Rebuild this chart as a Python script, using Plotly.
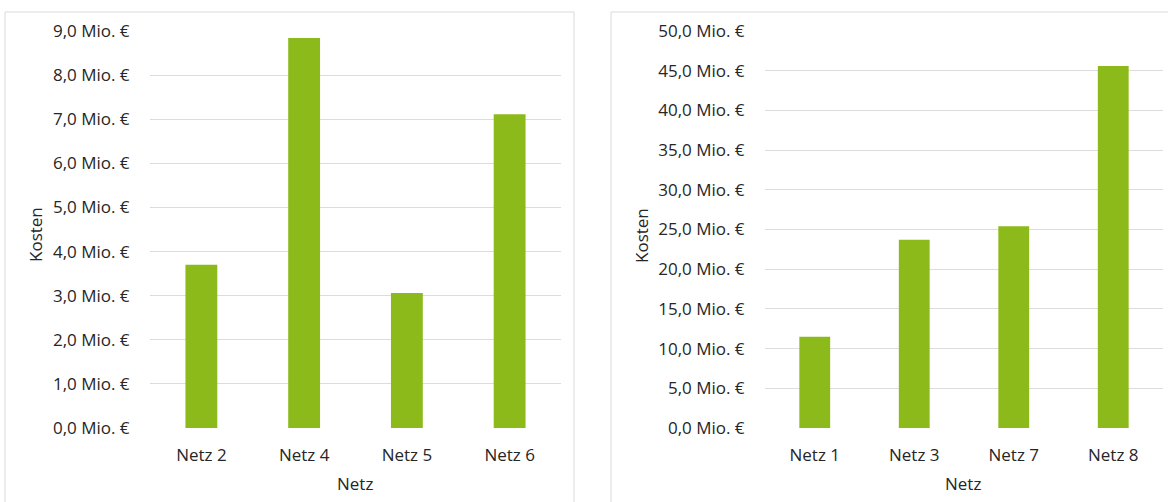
import plotly.graph_objects as go

# Kosten je Netz, zwei Gruppen
netze_links = ["Netz 2", "Netz 4", "Netz 5", "Netz 6"]
kosten_links = [3.70, 8.84, 3.06, 7.11]
ticks_links = [0, 1, 2, 3, 4, 5, 6, 7, 8, 9]
ticktext_links = ["0,0 Mio. €", "1,0 Mio. €", "2,0 Mio. €", "3,0 Mio. €", "4,0 Mio. €",
                  "5,0 Mio. €", "6,0 Mio. €", "7,0 Mio. €", "8,0 Mio. €", "9,0 Mio. €"]

netze_rechts = ["Netz 1", "Netz 3", "Netz 7", "Netz 8"]
kosten_rechts = [11.5, 23.7, 25.4, 45.6]
ticks_rechts = [0, 5, 10, 15, 20, 25, 30, 35, 40, 45, 50]
ticktext_rechts = ["0,0 Mio. €", "5,0 Mio. €", "10,0 Mio. €", "15,0 Mio. €", "20,0 Mio. €",
                   "25,0 Mio. €", "30,0 Mio. €", "35,0 Mio. €", "40,0 Mio. €", "45,0 Mio. €",
                   "50,0 Mio. €"]

W, H = 1168, 502
GREEN = "#8CBA1B"
GRID = "#DCDCDC"
TEXT = "#262626"
FONT = "Open Sans"
FS = 17


def px_x(v):
    return v / W


def px_y(v):
    return 1 - v / H


fig = go.Figure()
fig.add_trace(go.Bar(x=netze_links, y=kosten_links, marker=dict(color=GREEN, line=dict(width=0)),
                     width=0.31, xaxis="x", yaxis="y", hoverinfo="x+y"))
fig.add_trace(go.Bar(x=netze_rechts, y=kosten_rechts, marker=dict(color=GREEN, line=dict(width=0)),
                     width=0.31, xaxis="x2", yaxis="y2", hoverinfo="x+y"))

ydom = [px_y(428), px_y(31)]
axis_font = dict(family=FONT, size=FS, color=TEXT)

common_x = dict(showgrid=False, showline=False, zeroline=False, ticks="outside", ticklen=12,
                tickcolor="rgba(0,0,0,0)", tickfont=axis_font, fixedrange=True, automargin=False)
common_y = dict(showgrid=True, gridcolor=GRID, gridwidth=1, showline=False, zeroline=False,
                ticks="outside", ticklen=16, tickcolor="rgba(0,0,0,0)", tickfont=axis_font,
                fixedrange=True, automargin=False)

fig.update_layout(
    template="none",
    width=W, height=H,
    margin=dict(l=0, r=0, t=0, b=0, pad=0),
    paper_bgcolor="white", plot_bgcolor="white",
    showlegend=False,
    font=dict(family=FONT, color=TEXT),
    xaxis=dict(domain=[px_x(150), px_x(561)], anchor="y", **common_x),
    yaxis=dict(domain=ydom, anchor="x", range=[0, 9], tickvals=ticks_links,
               ticktext=ticktext_links, **common_y),
    xaxis2=dict(domain=[px_x(765), px_x(1163)], anchor="y2", **common_x),
    yaxis2=dict(domain=ydom, anchor="x2", range=[0, 50], tickvals=ticks_rechts,
                ticktext=ticktext_rechts, **common_y),
)

# Rahmen der beiden Diagrammflächen
for x0, x1 in [(5, 574), (611, 1175)]:
    fig.add_shape(type="rect", xref="paper", yref="paper",
                  x0=px_x(x0), x1=px_x(x1), y0=px_y(510), y1=px_y(12),
                  line=dict(color="#D9D9D9", width=1), fillcolor="rgba(0,0,0,0)", layer="below")

# Achsentitel
title_font = dict(family=FONT, size=FS, color=TEXT)
for xc, yc in [(355, 483), (963, 483)]:
    fig.add_annotation(text="Netz", xref="paper", yref="paper", x=px_x(xc), y=px_y(yc),
                       showarrow=False, font=title_font, xanchor="center", yanchor="middle")
for xc in [35, 641]:
    fig.add_annotation(text="Kosten", xref="paper", yref="paper", x=px_x(xc), y=px_y(235),
                       showarrow=False, font=title_font, textangle=-90,
                       xanchor="center", yanchor="middle")

fig.write_html("out.html")
